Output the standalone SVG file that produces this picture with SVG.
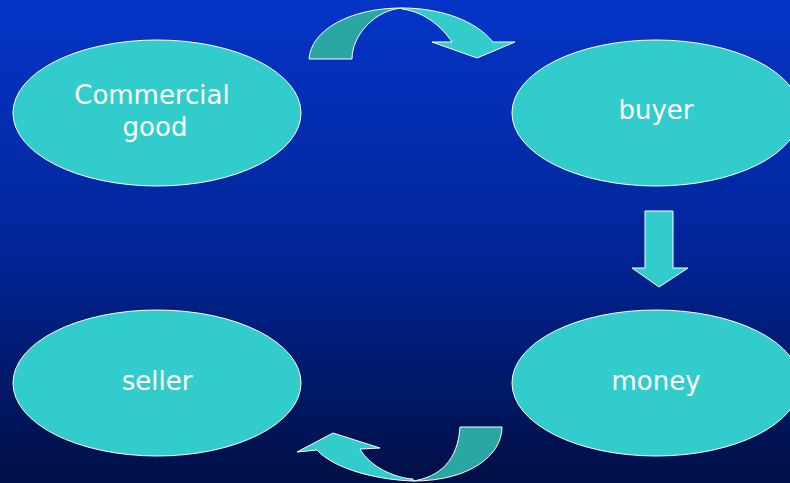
<svg xmlns="http://www.w3.org/2000/svg" width="790" height="483" viewBox="0 0 790 483">
<defs>
<linearGradient id="bg" x1="0" y1="0" x2="0" y2="1">
<stop offset="0" stop-color="#0435C8"/>
<stop offset="0.5" stop-color="#02269A"/>
<stop offset="1" stop-color="#000F45"/>
</linearGradient>
</defs>
<style>
.node{fill:#33CCCC;stroke:#FFFFFF;stroke-width:1}
.lbl{font-family:"DejaVu Sans",Verdana,sans-serif;font-size:26px;fill:#FFFFFF;text-anchor:middle}
.lt{fill:#33CCCC;stroke:#FFFFFF;stroke-width:1;stroke-linejoin:miter}
.dk{fill:#2AA6A3;stroke:#FFFFFF;stroke-width:1}
</style>
<rect x="0" y="0" width="790" height="483" fill="url(#bg)"/>
<g id="node-commercial-good">
<ellipse class="node" cx="157" cy="113" rx="144" ry="73"/>
<text class="lbl" x="152" y="104">Commercial</text>
<text class="lbl" x="155" y="136">good</text>
</g>
<g id="node-buyer">
<ellipse class="node" cx="656" cy="113" rx="144" ry="73"/>
<text class="lbl" x="656" y="119">buyer</text>
</g>
<g id="node-money">
<ellipse class="node" cx="656" cy="383" rx="144" ry="73"/>
<text class="lbl" x="656" y="390">money</text>
</g>
<g id="node-seller">
<ellipse class="node" cx="157" cy="383" rx="144" ry="73"/>
<text class="lbl" x="157" y="390">seller</text>
</g>
<g id="connectors">
<path class="dk" d="M309,59 C311,30 350,8 402,8 C375,10 352,35 352,59 Z"/>
<path class="lt" d="M402,8 C440,8 475,20 493,42 L515,42 L477,58 L432,42 L452,42 C442,27 425,12 402,9 Z"/>
<path class="lt" d="M645,211 L673,211 L673,268 L688,268 L659,287 L632,268 L645,268 Z"/>
<path class="dk" d="M502,427 C502,455 470,481 413,481 C440,477 458,460 460,427 Z"/>
<path class="lt" d="M413,481 C380,480 335,470 317,450 L297,452 L333,433 L380,448 L360,449 C370,467 395,478 413,479 Z"/>
</g>
</svg>
